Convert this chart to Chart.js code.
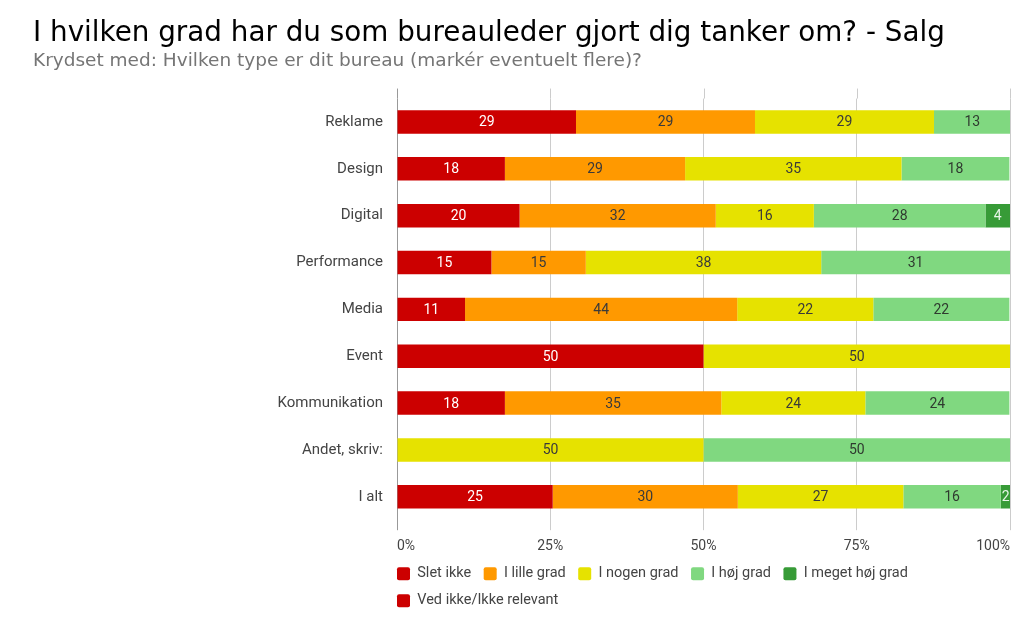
<!DOCTYPE html>
<html>
<head>
<meta charset="utf-8">
<script src="https://cdn.jsdelivr.net/npm/chart.js@4.4.1/dist/chart.umd.min.js"></script>
<style>
  html, body { margin: 0; padding: 0; background: #fff; }
  #wrap { width: 1024px; height: 633px; position: relative; }
</style>
</head>
<body>
<div id="wrap"><canvas id="chart"></canvas></div>
<script>
// kategorier og andele (%)
const kategorier = ["Reklame", "Design", "Digital", "Performance", "Media", "Event", "Kommunikation", "Andet, skriv:", "I alt"];
const sletIkke   = [29.2, 17.6, 20, 15.4, 11.1, 50, 17.6, 0, 25.4];
const iLilleGrad = [29.2, 29.4, 32, 15.4, 44.4, 0, 35.3, 0, 30.2];
const iNogenGrad = [29.2, 35.3, 16, 38.4, 22.2, 50, 23.5, 50, 27.0];
const iHoejGrad  = [12.5, 17.6, 28, 30.8, 22.2, 0, 23.5, 50, 15.9];
const iMegetHoej = [0, 0, 4, 0, 0, 0, 0, 0, 1.6];
const vedIkke    = [0, 0, 0, 0, 0, 0, 0, 0, 0];
const xTicks = [0, 25, 50, 75, 100];

const seriesNames = ["Slet ikke", "I lille grad", "I nogen grad", "I høj grad", "I meget høj grad", "Ved ikke/Ikke relevant"];
const seriesData = [sletIkke, iLilleGrad, iNogenGrad, iHoejGrad, iMegetHoej, vedIkke];
const colors = ["#cc0000", "#ff9900", "#e6e200", "#80d880", "#379b37", "#cc0000"];
const labelColors = ["#ffffff", "#3a3a3a", "#3a3a3a", "#2f3a2f", "#e8f5e8", "#ffffff"];

Chart.defaults.font.family = "Roboto";
Chart.defaults.color = "#444";

// tal midt i hver bar
const barLabels = {
    id: "barLabels",
    afterDatasetsDraw(chart) {
        const ctx = chart.ctx;
        ctx.save();
        ctx.font = "14px Roboto";
        ctx.textAlign = "center";
        ctx.textBaseline = "middle";
        chart.data.datasets.forEach(function (ds, i) {
            const meta = chart.getDatasetMeta(i);
            meta.data.forEach(function (bar, j) {
                const v = ds.data[j];
                if (!v) return;
                ctx.fillStyle = labelColors[i];
                ctx.fillText(Math.round(v), (bar.x + bar.base) / 2, bar.y + 1);
            });
        });
        ctx.restore();
    }
};

// gitterlinjerne går lidt op over første bar
const gridTop = {
    id: "gridTop",
    beforeDatasetsDraw(chart) {
        const ctx = chart.ctx;
        const x = chart.scales.x;
        const top = chart.chartArea.top;
        ctx.save();
        ctx.lineWidth = 1;
        xTicks.forEach(function (t) {
            const px = Math.round(x.getPixelForValue(t)) + 0.5;
            ctx.strokeStyle = t === 0 ? "#999" : "#ccc";
            ctx.beginPath();
            ctx.moveTo(px, top - 10);
            ctx.lineTo(px, top);
            ctx.stroke();
        });
        ctx.restore();
    }
};

// legenden skal starte ud for 0-linjen
const legendLeft = {
    id: "legendLeft",
    afterLayout(chart) {
        const lg = chart.legend;
        const pad = lg.options.labels.padding;
        lg.left = chart.chartArea.left - pad;
        lg.right = lg.right - pad;
    }
};

new Chart(document.getElementById("chart"), {
    type: "bar",
    data: {
        labels: kategorier,
        datasets: seriesNames.map(function (name, i) {
            return {
                label: name,
                data: seriesData[i],
                backgroundColor: colors[i],
                borderWidth: 0,
                barPercentage: 0.5,
                categoryPercentage: 1
            };
        })
    },
    options: {
        indexAxis: "y",
        responsive: true,
        maintainAspectRatio: false,
        animation: false,
        layout: { padding: { left: 33, right: 14, top: 0, bottom: 15 } },
        scales: {
            x: {
                stacked: true,
                min: 0,
                max: 100,
                afterBuildTicks(scale) {
                    scale.ticks = xTicks.map(function (v) { return { value: v }; });
                },
                afterFit(scale) { scale.height -= 9; },
                ticks: {
                    callback: function (v) { return v + "%"; },
                    align: "inner",
                    padding: 8,
                    font: { size: 14 },
                    color: "#444"
                },
                grid: {
                    color: function (c) { return c.tick && c.tick.value === 0 ? "#999" : "#ccc"; },
                    tickLength: 10
                },
                border: { display: false }
            },
            y: {
                stacked: true,
                afterFit(scale) { scale.width = 364; },
                ticks: { font: { size: 15 }, color: "#444", padding: 14 },
                grid: { display: false, drawTicks: false },
                border: { display: false }
            }
        },
        plugins: {
            title: {
                display: true,
                text: "I hvilken grad har du som bureauleder gjort dig tanker om? - Salg",
                align: "start",
                color: "#000",
                font: { family: "DejaVu Sans", size: 27.8, weight: "normal" },
                padding: { top: 17, bottom: 0 }
            },
            subtitle: {
                display: true,
                text: "Krydset med: Hvilken type er dit bureau (markér eventuelt flere)?",
                align: "start",
                color: "#757575",
                font: { family: "DejaVu Sans", size: 18.5, weight: "normal" },
                padding: { top: 0, bottom: 26 }
            },
            legend: {
                position: "bottom",
                align: "start",
                fullSize: false,
                labels: {
                    boxWidth: 13,
                    boxHeight: 13,
                    useBorderRadius: true,
                    borderRadius: 2,
                    padding: 12.5,
                    color: "#444",
                    font: { size: 14.5 }
                }
            },
            tooltip: { enabled: false }
        }
    },
    plugins: [barLabels, gridTop, legendLeft]
});
</script>
</body>
</html>
